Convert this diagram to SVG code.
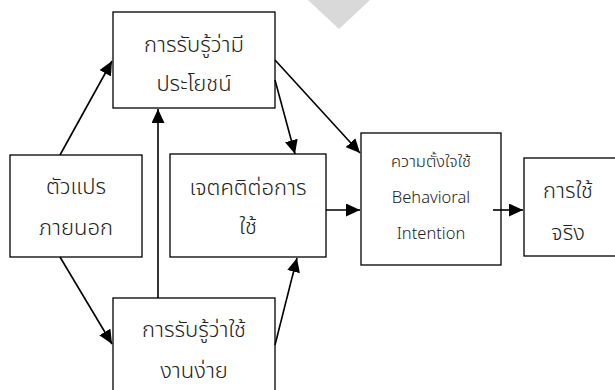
<svg xmlns="http://www.w3.org/2000/svg" width="615" height="390" viewBox="0 0 615 390">
<defs>
<marker id="ah" markerUnits="userSpaceOnUse" markerWidth="15" markerHeight="13" refX="14" refY="6.5" orient="auto">
<path d="M0,0 L14,6.5 L0,13 Z" fill="#000"/>
</marker>
<style>
.box{fill:#fff;stroke:#000;stroke-width:1.3}
.t{font-family:"Noto Sans Thai","Noto Sans","DejaVu Sans",sans-serif;font-size:22px;fill:#222;text-anchor:middle;font-weight:300}
.s{font-family:"Noto Sans Thai","Noto Sans","DejaVu Sans",sans-serif;font-size:16.5px;fill:#222;text-anchor:middle;font-weight:300}
.c{stroke:#000;stroke-width:1.6;fill:none;marker-end:url(#ah)}
</style>
</defs>
<rect width="615" height="390" fill="#fff"/>
<polygon points="308,0 370,0 339,29" fill="#d9d9d9"/>
<g id="n-useful"><rect class="box" x="113" y="12" width="162" height="96"/><text class="t" x="194" y="52">การรับรู้ว่ามี</text><text class="t" x="194" y="91">ประโยชน์</text></g>
<g id="n-external"><rect class="box" x="10" y="155" width="132" height="102"/><text class="t" x="76" y="194">ตัวแปร</text><text class="t" x="76" y="235">ภายนอก</text></g>
<g id="n-attitude"><rect class="box" x="170" y="154" width="156" height="103"/><text class="t" x="248" y="195">เจตคติต่อการ</text><text class="t" x="248" y="234">ใช้</text></g>
<g id="n-intention"><rect class="box" x="361" y="133" width="140" height="132"/><text class="s" x="431" y="167">ความตั้งใจใช้</text><text class="s" x="431" y="203">Behavioral</text><text class="s" x="431" y="239">Intention</text></g>
<g id="n-actual"><rect class="box" x="524" y="158" width="100" height="98"/><text class="t" x="568" y="198">การใช้</text><text class="t" x="568" y="240">จริง</text></g>
<g id="n-ease"><rect class="box" x="113" y="298" width="162" height="100"/><text class="t" x="194" y="337">การรับรู้ว่าใช้</text><text class="t" x="194" y="378">งานง่าย</text></g>
<g id="connectors">
<line class="c" x1="60" y1="155" x2="112" y2="61"/>
<line class="c" x1="60" y1="257" x2="112" y2="344"/>
<line class="c" x1="158" y1="298" x2="158" y2="109"/>
<line class="c" x1="275" y1="80" x2="295" y2="154"/>
<line class="c" x1="275" y1="60" x2="360" y2="153"/>
<line class="c" x1="326" y1="210" x2="360" y2="210"/>
<line class="c" x1="275" y1="345" x2="297" y2="258"/>
<line class="c" x1="493" y1="210" x2="523" y2="210"/>
</g>
</svg>
